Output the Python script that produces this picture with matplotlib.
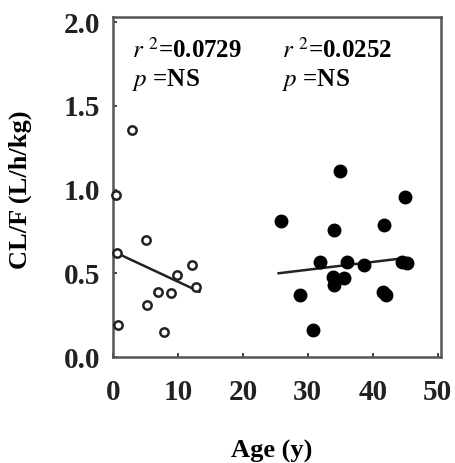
import matplotlib
matplotlib.use("Agg")
import matplotlib.pyplot as plt
import numpy as np

plt.rcParams['font.family'] = ['Liberation Serif', 'DejaVu Serif']
plt.rcParams['mathtext.fontset'] = 'stix'

# Children (open circles)
child_age = [0.5, 3.0, 5.1, 0.6, 12.2, 9.9, 12.8, 6.9, 9.0, 5.2, 0.8, 7.9]
child_cl = [0.97, 1.355, 0.70, 0.62, 0.55, 0.49, 0.42, 0.39, 0.38, 0.31, 0.19, 0.15]
child_fit_x = [0.6, 13.3]
child_fit_y = [0.62, 0.39]

# Adults (filled circles)
adult_age = [34.9, 45.0, 25.9, 34.0, 41.8, 31.8, 36.1, 38.7, 44.5, 45.2,
             33.8, 35.6, 34.1, 41.5, 42.0, 28.8, 30.8]
adult_cl = [1.11, 0.955, 0.81, 0.76, 0.79, 0.57, 0.57, 0.55, 0.57, 0.56,
            0.48, 0.47, 0.43, 0.39, 0.37, 0.37, 0.16]
adult_fit_x = [25.5, 44.8]
adult_fit_y = [0.50, 0.59]

xticks = [0, 10, 20, 30, 40, 50]
yticks = [0.0, 0.5, 1.0, 1.5, 2.0]

W, H = 456, 463
fig = plt.figure(figsize=(W/100, H/100), dpi=100)
ax = fig.add_axes([113/W, 1 - 357/H, (441-113)/W, (357-17)/H])

ax.plot(child_fit_x, child_fit_y, color='#222222', lw=1.8, zorder=2)
ax.plot(adult_fit_x, adult_fit_y, color='#222222', lw=1.8, zorder=2)
ax.plot(child_age, child_cl, 'o', ms=6, mfc='white', mec='#222222', mew=1.8, zorder=3, clip_on=False)
ax.plot(adult_age, adult_cl, 'o', ms=9, mfc='black', mec='black', zorder=3)

ax.set_xlim(0, 50.5)
ax.set_ylim(0, 2.03)
ax.set_xticks(xticks)
ax.set_xticklabels([str(t) for t in xticks])
ax.set_yticks(yticks)
ax.set_yticklabels([f"{t:.1f}" for t in yticks])
ax.tick_params(direction='in', length=3, width=1.2, labelsize=21, colors='#222222')
ax.tick_params(axis='x', pad=16)
ax.tick_params(axis='y', pad=9)
for lab in ax.get_xticklabels() + ax.get_yticklabels():
    lab.set_fontweight('bold')
for s in ax.spines.values():
    s.set_linewidth(1.8)
    s.set_color('#555555')

fig.text(272/W, 1 - 451/H, 'Age (y)', fontsize=19, fontweight='bold', ha='center', va='center')
fig.text(20/W, 1 - 190/H, 'CL/F (L/h/kg)', fontsize=19, fontweight='bold', ha='center', va='center', rotation=90)

kw = dict(transform=ax.transAxes, fontsize=18, fontweight='bold', va='center')
ax.text(0.058, 0.903, r'$r$ $^{2}$=0.0729', **kw)
ax.text(0.058, 0.815, r'$p$ =NS', **kw)
ax.text(0.515, 0.903, r'$r$ $^{2}$=0.0252', **kw)
ax.text(0.515, 0.815, r'$p$ =NS', **kw)

fig.savefig('out.png', dpi=100)
